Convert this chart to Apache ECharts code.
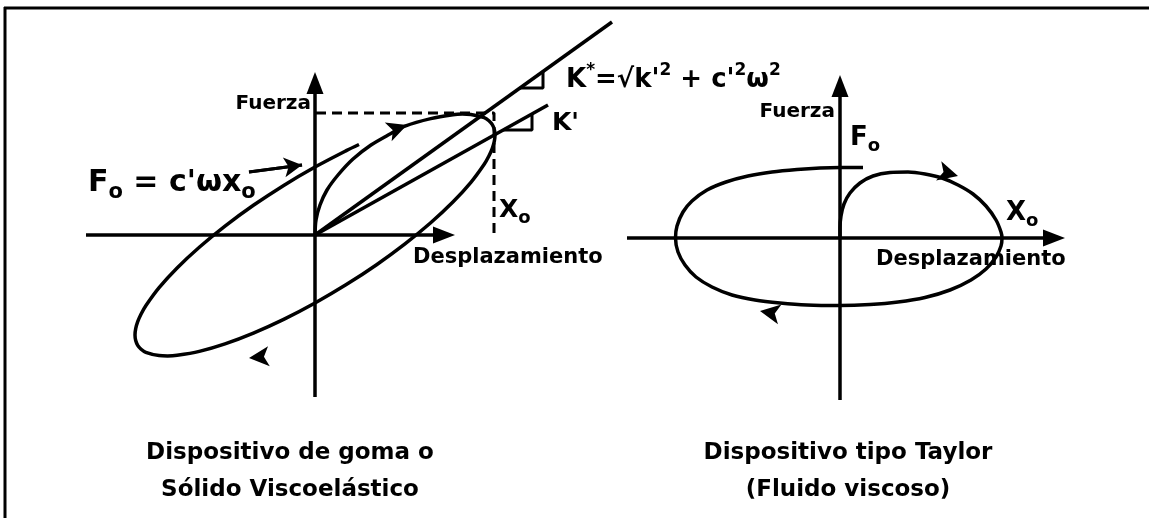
<!DOCTYPE html>
<html>
<head>
<meta charset="utf-8">
<script src="https://cdn.jsdelivr.net/npm/echarts@6/dist/echarts.min.js"></script>
<style>
  html, body { margin: 0; padding: 0; background: #fff; }
  #chart { width: 1149px; height: 518px; }
</style>
</head>
<body>
<div id="chart"></div>
<script>
// units: origin of each panel at 0,0 ; x = desplazamiento, y = fuerza

// --- left panel: dispositivo de goma (solido viscoelastico)
const leftLoop = [
  [0, 0], [0.1, 1.5], [0.5, 3.0], [1.2, 4.5], [2.3, 6.0], [3.8, 7.6], [5.6, 9.0],
  [7.5, 10.1], [9.0, 10.89], [11.57, 11.64], [13.79, 12.03], [14.74, 12.09],
  [15.59, 12.06], [16.92, 11.73], [17.39, 11.42], [17.73, 11.03], [17.93, 10.55],
  [18, 10], [17.93, 9.37], [17.73, 8.67], [17.39, 7.9], [16.92, 7.07], [15.59, 5.26],
  [13.79, 3.29], [11.57, 1.22], [9.0, -0.89], [6.16, -2.97], [3.13, -4.96], [0, -6.8],
  [-3.13, -8.44], [-6.16, -9.81], [-9.0, -10.89], [-11.57, -11.64], [-13.79, -12.03],
  [-14.74, -12.09], [-15.59, -12.06], [-16.92, -11.73], [-17.39, -11.42], [-17.73, -11.03],
  [-17.93, -10.55], [-18, -10], [-17.93, -9.37], [-17.73, -8.67], [-17.39, -7.9],
  [-16.92, -7.07], [-15.59, -5.26], [-13.79, -3.29], [-11.57, -1.22], [-9.0, 0.89],
  [-6.16, 2.97], [-3.13, 4.96], [0, 6.8], [3.13, 8.44], [4.4, 9.05]
];
const leftKStarLine = [[0, 0], [29.7, 21.3]];
const leftKPrimeLine = [[0, 0], [23.3, 13.0]];
const leftKStarTri = [[20.5, 14.7], [22.8, 14.7], [22.8, 16.35]];
const leftKPrimeTri = [[18.8, 10.5], [21.7, 10.5], [21.7, 12.11]];
const leftDashed = [[0.1, 12.2], [17.9, 12.2], [17.9, 0]];
const leftPointer = [[-6.6, 6.3], [-1.3, 7.0]];
const leftArrowHeads = [[9.2, 11.0, -70], [-6.6, -12.3, 95]];   // x, y, rotate
const leftAxisX = [[-22.9, 0], [12.9, 0]];
const leftAxisY = [[0, -16.2], [0, 15.2]];
const leftAxisTips = [[12.9, 0, -90], [0, 15.2, 0]];

// --- right panel: dispositivo tipo Taylor (fluido viscoso)
const rightLoop = [
  [0, 0], [0, 1.0], [0.1, 2.2], [0.4, 3.4], [1.0, 4.5], [2.0, 5.5], [3.3, 6.2],
  [5.0, 6.55], [6.8, 6.6], [8.5, 6.4], [10.2, 6.0], [11.8, 5.3], [13.3, 4.4],
  [14.6, 3.2], [15.6, 1.8], [16.1, 0.6], [16.2, 0], [16.1, -0.8], [15.6, -1.9],
  [14.6, -3.1], [13.1, -4.2], [11.0, -5.2], [8.5, -5.95], [5.8, -6.4], [3.0, -6.65],
  [0, -6.75], [-3.3, -6.7], [-6.0, -6.5], [-8.5, -6.2], [-10.8, -5.7], [-12.8, -4.9],
  [-14.4, -3.9], [-15.5, -2.7], [-16.2, -1.4], [-16.45, 0], [-16.3, 1.2], [-15.7, 2.6],
  [-14.8, 3.7], [-13.3, 4.8], [-11.4, 5.6], [-9.2, 6.2], [-6.8, 6.6], [-4.3, 6.85],
  [-2.0, 7.0], [0, 7.05], [2.3, 7.05]
];
const rightArrowHeads = [[11.8, 6.2, -105], [-8.0, -7.3, 80]];
const rightAxisX = [[-21.3, 0], [21.4, 0]];
const rightAxisY = [[0, -16.2], [0, 15.2]];
const rightAxisTips = [[21.4, 0, -90], [0, 15.2, 0]];

// scale ranges of each panel
const leftX = [-22.9, 29.7], leftY = [-16.2, 21.5];
const rightX = [-21.3, 22.5], rightY = [-16.2, 16.3];

const FONT = '"DejaVu Sans", sans-serif';

function axis(grid, range) {
  return {
    type: 'value', gridIndex: grid, min: range[0], max: range[1], show: false,
    splitLine: { show: false }
  };
}

function path(idx, data, opts) {
  return Object.assign({
    type: 'line', xAxisIndex: idx, yAxisIndex: idx, data: data,
    symbol: 'none', clip: false, silent: true,
    lineStyle: { color: '#000', width: 3.5 }
  }, opts || {});
}

function heads(idx, data, symbol, size) {
  return {
    type: 'scatter', xAxisIndex: idx, yAxisIndex: idx, clip: false, silent: true,
    data: data, symbol: symbol, symbolSize: size,
    symbolRotate: function (v) { return v[2]; },
    itemStyle: { color: '#000', opacity: 1 }
  };
}

function rich(size) {
  const lh = Math.round(size * 1.35);
  return {
    m: { fontSize: size, fontWeight: 'bold', fontFamily: FONT, lineHeight: lh, verticalAlign: 'middle' },
    s: { fontSize: Math.round(size * 0.7), fontWeight: 'bold', fontFamily: FONT, lineHeight: lh, verticalAlign: 'bottom' },
    p: { fontSize: Math.round(size * 0.65), fontWeight: 'bold', fontFamily: FONT, lineHeight: lh, verticalAlign: 'top' }
  };
}

function txt(x, y, text, size, align, useRich) {
  return {
    type: 'text', x: x, y: y, silent: true,
    style: {
      text: text, fill: '#000', font: 'bold ' + size + 'px ' + FONT,
      align: align || 'left', verticalAlign: 'middle',
      rich: useRich ? rich(size) : undefined
    }
  };
}

const chart = echarts.init(document.getElementById('chart'));

chart.setOption({
  backgroundColor: '#fff',
  animation: false,
  grid: [
    { left: 86, top: 20, width: 526, height: 377 },
    { left: 627, top: 75, width: 438, height: 325 }
  ],
  xAxis: [axis(0, leftX), axis(1, rightX)],
  yAxis: [axis(0, leftY), axis(1, rightY)],
  series: [
    path(0, leftAxisX),
    path(0, leftAxisY),
    heads(0, leftAxisTips, 'triangle', [17, 22]),
    path(0, leftLoop, { smooth: 0.3 }),
    path(0, leftKStarLine),
    path(0, leftKPrimeLine),
    path(0, leftKStarTri, { lineStyle: { color: '#000', width: 3 } }),
    path(0, leftKPrimeTri, { lineStyle: { color: '#000', width: 3 } }),
    path(0, leftDashed, { lineStyle: { color: '#000', width: 3, type: [10, 6] } }),
    path(0, leftPointer, {
      lineStyle: { color: '#000', width: 3 },
      markLine: {
        silent: true, symbol: ['none', 'arrow'], symbolSize: [15, 18],
        label: { show: false },
        lineStyle: { color: '#000', width: 3, type: 'solid' },
        data: [[{ coord: leftPointer[0] }, { coord: leftPointer[1] }]]
      }
    }),
    heads(0, leftArrowHeads, 'arrow', [15, 20]),

    path(1, rightAxisX),
    path(1, rightAxisY),
    heads(1, rightAxisTips, 'triangle', [17, 22]),
    path(1, rightLoop, { smooth: 0.3 }),
    heads(1, rightArrowHeads, 'arrow', [15, 20])
  ],
  graphic: [
    // frame
    { type: 'line', shape: { x1: 5, y1: 7, x2: 5, y2: 518 }, style: { stroke: '#000', lineWidth: 3 } },
    { type: 'line', shape: { x1: 4, y1: 8, x2: 1149, y2: 8 }, style: { stroke: '#000', lineWidth: 3 } },

    txt(311, 104, 'Fuerza', 20, 'right'),
    txt(413, 258, 'Desplazamiento', 21),
    txt(88, 183, '{m|F}{s|o}{m| = c\'ωx}{s|o}', 30, 'left', true),
    txt(499, 210, '{m|X}{s|o}', 25, 'left', true),
    txt(566, 80, '{m|K}{p|*}{m|=√k\'}{p|2}{m| + c\'}{p|2}{m|ω}{p|2}', 26, 'left', true),
    txt(552, 123, '{m|K\'}', 25, 'left', true),

    txt(835, 112, 'Fuerza', 20, 'right'),
    txt(850, 138, '{m|F}{s|o}', 26, 'left', true),
    txt(1006, 213, '{m|X}{s|o}', 26, 'left', true),
    txt(876, 260, 'Desplazamiento', 21),

    txt(290, 453, 'Dispositivo de goma o', 23, 'center'),
    txt(290, 490, 'Sólido Viscoelástico', 23, 'center'),
    txt(848, 453, 'Dispositivo tipo Taylor', 23, 'center'),
    txt(848, 490, '(Fluido viscoso)', 23, 'center')
  ]
});
</script>
</body>
</html>
